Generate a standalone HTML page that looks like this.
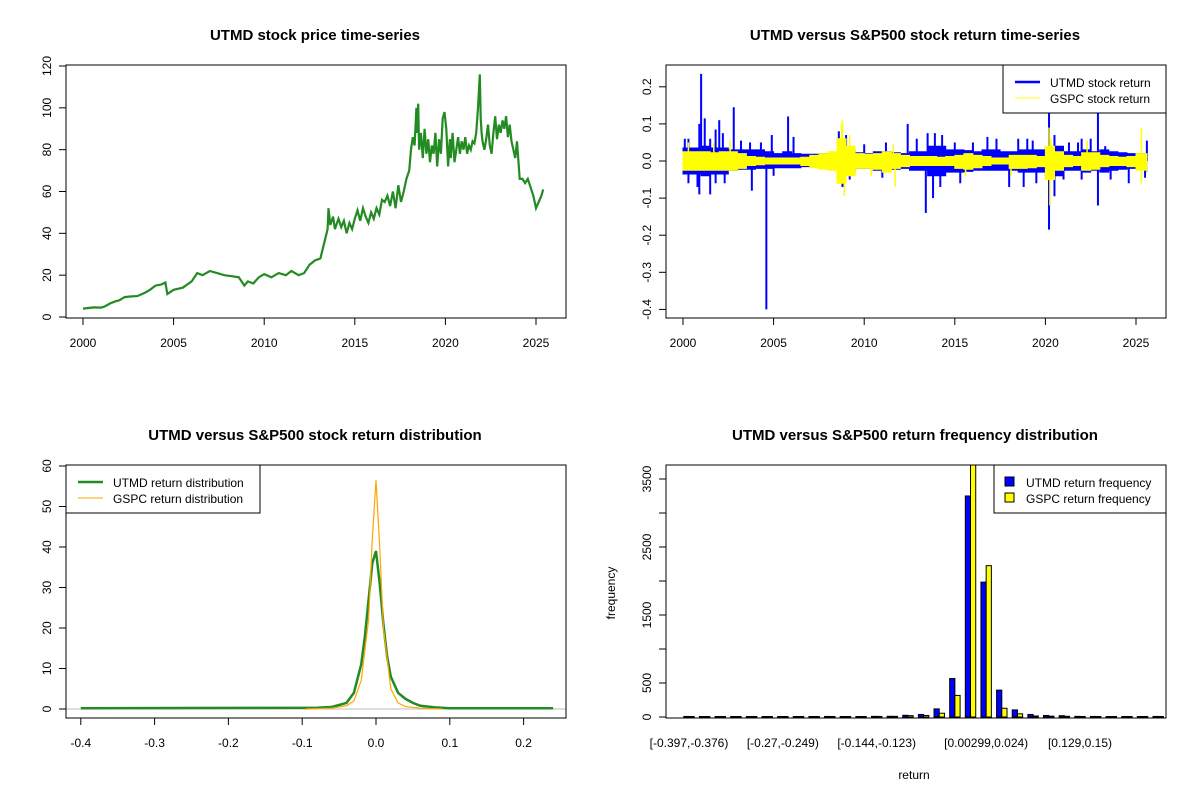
<!DOCTYPE html>
<html><head><meta charset="utf-8"><style>
html,body{margin:0;padding:0;background:#fff;}
svg{display:block;font-family:"Liberation Sans",Arial,sans-serif;}
</style></head><body>
<svg id="c" width="1200" height="800" viewBox="0 0 1200 800" xmlns="http://www.w3.org/2000/svg">
<text x="315" y="40" text-anchor="middle" font-size="15" font-weight="bold">UTMD stock price time-series</text>
<text x="915" y="40" text-anchor="middle" font-size="15" font-weight="bold">UTMD versus S&amp;P500 stock return time-series</text>
<text x="315" y="440" text-anchor="middle" font-size="15" font-weight="bold">UTMD versus S&amp;P500 stock return distribution</text>
<text x="915" y="440" text-anchor="middle" font-size="15" font-weight="bold">UTMD versus S&amp;P500 return frequency distribution</text>
<text x="914" y="779" text-anchor="middle" font-size="12">return</text>
<text transform="translate(615,593) rotate(-90)" text-anchor="middle" font-size="12">frequency</text>
</svg>
<script>
// ---------- data ----------
var priceYears=[2000,2000.3,2000.6,2001,2001.2,2001.5,2001.8,2002,2002.3,2002.6,2003,2003.4,2003.7,2004,2004.3,2004.55,2004.65,2005,2005.5,2006,2006.3,2006.6,2007,2007.4,2007.8,2008.2,2008.6,2008.9,2009.1,2009.4,2009.7,2010,2010.4,2010.8,2011.2,2011.5,2011.9,2012.2,2012.5,2012.8,2013.1,2013.3,2013.5,2013.55,2013.65,2013.8,2013.9,2014.1,2014.25,2014.4,2014.55,2014.7,2014.85,2015,2015.15,2015.3,2015.45,2015.6,2015.75,2015.9,2016.05,2016.2,2016.35,2016.5,2016.65,2016.8,2016.95,2017.1,2017.25,2017.4,2017.55,2017.7,2017.85,2018,2018.1,2018.2,2018.3,2018.4,2018.45,2018.5,2018.55,2018.65,2018.75,2018.85,2018.95,2019.05,2019.15,2019.25,2019.35,2019.45,2019.55,2019.65,2019.75,2019.85,2019.95,2020.05,2020.15,2020.25,2020.3,2020.4,2020.5,2020.6,2020.7,2020.8,2020.9,2021,2021.1,2021.2,2021.3,2021.4,2021.5,2021.6,2021.7,2021.8,2021.9,2021.95,2022,2022.05,2022.15,2022.25,2022.35,2022.45,2022.55,2022.65,2022.75,2022.85,2022.95,2023.05,2023.15,2023.25,2023.35,2023.45,2023.55,2023.65,2023.75,2023.85,2023.95,2024.1,2024.25,2024.4,2024.55,2024.7,2024.85,2025,2025.15,2025.3,2025.4,2025.5,2025.6];
var priceVals=[4,4.3,4.6,4.5,5,6.5,7.5,8,9.5,9.8,10,11.5,13,15,15.5,16.5,11,13,14,17,21,20,22,21,20,19.5,19,15,17,16,19,20.5,19,21,20,22,20,21,25,27,28,35,42,52,44,48,42,47,43,46,40,45,42,47,51,46,52,48,45,50,47,52,49,56,55,58,53,60,52,63,55,60,66,70,80,86,82,100,88,102,80,88,76,90,78,85,74,82,78,88,72,85,78,95,98,90,72,85,76,88,74,80,86,78,84,80,86,78,82,80,84,83,88,100,116,95,88,84,80,85,92,82,78,88,96,85,92,88,94,90,96,86,92,84,80,76,84,66,66,64,66,62,58,52,55,58,61];

var retYears=[2000,2000.5,2001,2001.5,2002,2002.5,2003,2003.5,2004,2004.5,2005,2005.5,2006,2006.5,2007,2007.5,2008,2008.5,2009,2009.5,2010,2010.5,2011,2011.5,2012,2012.5,2013,2013.5,2014,2014.5,2015,2015.5,2016,2016.5,2017,2017.5,2018,2018.5,2019,2019.5,2020,2020.5,2021,2021.5,2022,2022.5,2023,2023.5,2024,2024.5,2025,2025.6];
var utmdUp=[0.035,0.035,0.04,0.035,0.035,0.03,0.03,0.03,0.03,0.025,0.02,0.025,0.02,0.018,0.018,0.02,0.02,0.035,0.03,0.022,0.02,0.025,0.025,0.022,0.02,0.025,0.025,0.04,0.04,0.03,0.03,0.028,0.025,0.03,0.03,0.025,0.025,0.03,0.03,0.03,0.035,0.04,0.025,0.025,0.03,0.025,0.03,0.025,0.022,0.02,0.02,0.03];
var utmdDown=[-0.035,-0.035,-0.04,-0.035,-0.035,-0.025,-0.022,-0.022,-0.02,-0.02,-0.018,-0.018,-0.018,-0.015,-0.015,-0.02,-0.02,-0.03,-0.03,-0.02,-0.02,-0.025,-0.025,-0.022,-0.02,-0.025,-0.025,-0.04,-0.04,-0.03,-0.03,-0.028,-0.025,-0.025,-0.025,-0.025,-0.025,-0.03,-0.03,-0.03,-0.04,-0.04,-0.025,-0.025,-0.03,-0.025,-0.03,-0.025,-0.022,-0.02,-0.02,-0.028];
var spikeYears=[2000.1,2000.3,2000.9,2001.0,2001.2,2001.5,2001.8,2002.0,2002.2,2002.8,2003.2,2003.7,2004.3,2004.9,2005.8,2006.1,2008.6,2009.0,2010.0,2011.2,2012.4,2012.9,2013.5,2013.9,2014.3,2015.0,2016.0,2016.8,2017.3,2018.5,2019.0,2019.3,2020.2,2020.5,2021.3,2021.8,2022.0,2022.5,2022.9,2023.3,2025.6,
2000.3,2000.8,2000.9,2001.5,2001.8,2002.3,2003.8,2004.6,2005.0,2008.8,2009.2,2011.0,2013.4,2013.8,2014.2,2015.3,2018.0,2018.8,2019.5,2020.2,2020.5,2021.0,2022.0,2022.9,2023.6,2024.6,2025.5];
var spikeVals=[0.06,0.06,0.1,0.235,0.115,0.06,0.085,0.11,0.075,0.145,0.055,0.05,0.05,0.07,0.12,0.065,0.08,0.07,0.045,0.05,0.1,0.06,0.075,0.075,0.07,0.05,0.05,0.065,0.06,0.06,0.06,0.055,0.14,0.07,0.05,0.05,0.06,0.06,0.135,0.04,0.055,
-0.06,-0.07,-0.09,-0.09,-0.06,-0.06,-0.08,-0.4,-0.04,-0.07,-0.05,-0.045,-0.14,-0.1,-0.07,-0.06,-0.07,-0.07,-0.06,-0.185,-0.095,-0.05,-0.05,-0.12,-0.05,-0.06,-0.045];
var gspcUp=[0.025,0.025,0.025,0.022,0.025,0.025,0.02,0.012,0.01,0.008,0.008,0.008,0.008,0.01,0.015,0.02,0.025,0.06,0.04,0.02,0.018,0.02,0.025,0.02,0.015,0.012,0.012,0.012,0.01,0.012,0.015,0.02,0.015,0.012,0.008,0.008,0.015,0.015,0.015,0.012,0.04,0.025,0.015,0.012,0.022,0.022,0.015,0.012,0.01,0.012,0.02,0.015];
var gspcDown=[-0.025,-0.025,-0.025,-0.025,-0.025,-0.025,-0.02,-0.012,-0.01,-0.008,-0.008,-0.008,-0.008,-0.012,-0.018,-0.022,-0.025,-0.06,-0.04,-0.02,-0.02,-0.022,-0.03,-0.02,-0.015,-0.012,-0.012,-0.012,-0.012,-0.012,-0.02,-0.022,-0.018,-0.012,-0.008,-0.008,-0.02,-0.02,-0.018,-0.015,-0.05,-0.025,-0.015,-0.012,-0.025,-0.022,-0.015,-0.012,-0.012,-0.015,-0.025,-0.015];
var gspcSpikeYears=[2000.3,2001.7,2002.6,2008.8,2008.9,2008.75,2009.2,2010.4,2011.6,2011.7,2015.6,2018.1,2020.2,2020.25,2020.3,2022.3,2025.3,2025.3];
var gspcSpikeVals=[0.05,0.05,0.055,0.11,-0.095,0.1,0.07,-0.04,0.045,-0.07,-0.04,-0.04,0.09,-0.12,0.06,0.055,0.09,-0.06];

var densX=[-0.4,-0.08,-0.06,-0.05,-0.04,-0.03,-0.02,-0.015,-0.01,-0.005,0,0.005,0.01,0.015,0.02,0.03,0.04,0.05,0.06,0.08,0.1,0.24];
var utmdDens=[0.2,0.3,0.5,1,1.5,4,11,18,27,36,39,31,21,13,8,4,2.5,1.5,0.8,0.4,0.2,0.2];
var gspcDensX=[-0.095,-0.06,-0.04,-0.03,-0.02,-0.01,-0.005,0,0.005,0.01,0.02,0.03,0.04,0.06,0.09];
var gspcDens=[0,0.2,0.8,2,7,22,42,56.5,40,20,5,1.5,0.6,0.2,0];

var binLabels=["[-0.397,-0.376)","[-0.27,-0.249)","[-0.144,-0.123)","[0.00299,0.024)","[0.129,0.15)"];
var binLabelIdx=[0,6,12,19,25];
var utmdFreq=[1,0,0,0,0,0,0,0,0,1,0,0,2,3,18,30,112,558,3243,1976,388,97,30,15,12,2,1,0,0,0,1];
var gspcFreq=[0,0,0,0,0,0,0,0,0,0,0,0,1,2,12,15,48,310,4100,2218,121,39,8,5,3,0,0,0,0,0,0];

// ---------- helpers ----------
var S=document.getElementById('c'),NS='http://www.w3.org/2000/svg';
function mk(t,a){var e=document.createElementNS(NS,t);for(var k in a)e.setAttribute(k,a[k]);S.appendChild(e);return e;}
function box(x0,y0,x1,y1,name){var e=mk('rect',{x:x0,y:y0,width:x1-x0,height:y1-y0,fill:'none',stroke:'#000','stroke-width':1});

}
function xTick(x,y,lab,name){var l=mk('line',{x1:x,x2:x,y1:y,y2:y+7,stroke:'#000'});


var t=mk('text',{x:x,y:y+29,'text-anchor':'middle','font-size':12});t.textContent=lab;

}
function yTick(x,y,lab,name){var l=mk('line',{x1:x-7,x2:x,y1:y,y2:y,stroke:'#000'});


if(lab!==null){var t=mk('text',{transform:'translate('+(x-15)+','+y+') rotate(-90)','text-anchor':'middle','font-size':12});t.textContent=lab;

}}

// ---------- panel 1: price ----------
function px1(y){return 83+(y-2000)*18.12;}
function py1(v){return 317-v*(251/120);}
var d='';for(var i=0;i<priceYears.length;i++){d+=(i?'L':'M')+px1(priceYears[i]).toFixed(1)+' '+py1(priceVals[i]).toFixed(1);}
var p=mk('path',{d:d,fill:'none',stroke:'#228B22','stroke-width':2.2,'stroke-linejoin':'miter'});


box(66,65,566,318,'price-plot-frame');
[2000,2005,2010,2015,2020,2025].forEach(function(y){xTick(px1(y),318,String(y),'price-x');});
[0,20,40,60,80,100,120].forEach(function(v){yTick(66,py1(v),String(v),'price-y');});

// ---------- panel 2: returns ----------
function px2(y){return 683+(y-2000)*18.12;}
function py2(v){return 161-v*371;}
function band(up,dn,col,name){var d='',n=retYears.length;
for(var i=0;i<n;i++){var xa=px2(retYears[i]),xb=i<n-1?px2(retYears[i+1]):xa;d+=(i?'L':'M')+xa.toFixed(1)+' '+py2(up[i]).toFixed(1)+'L'+xb.toFixed(1)+' '+py2(up[i]).toFixed(1);}
for(var j=n-1;j>=0;j--){var xa2=px2(retYears[j]),xb2=j<n-1?px2(retYears[j+1]):xa2;d+='L'+xb2.toFixed(1)+' '+py2(dn[j]).toFixed(1)+'L'+xa2.toFixed(1)+' '+py2(dn[j]).toFixed(1);}
var e=mk('path',{d:d+'Z',fill:col,stroke:col,'stroke-width':1});

}
band(utmdUp,utmdDown,'#0000FF','utmd-return-band');
for(var i=0;i<spikeYears.length;i++){var s=mk('line',{x1:px2(spikeYears[i]),x2:px2(spikeYears[i]),y1:py2(0),y2:py2(spikeVals[i]),stroke:'#0000FF','stroke-width':2});

}
band(gspcUp,gspcDown,'#FFFF00','gspc-return-band');
for(var i=0;i<gspcSpikeYears.length;i++){var s2=mk('line',{x1:px2(gspcSpikeYears[i]),x2:px2(gspcSpikeYears[i]),y1:py2(0),y2:py2(gspcSpikeVals[i]),stroke:'#FFFF00','stroke-width':1.5});

}
box(666,65,1166,318,'return-plot-frame');
[2000,2005,2010,2015,2020,2025].forEach(function(y){xTick(px2(y),318,String(y),'return-x');});
[-0.4,-0.3,-0.2,-0.1,0,0.1,0.2].forEach(function(v){yTick(666,py2(v),v===0?'0.0':String(v),'return-y');});
var lg=mk('rect',{x:1003,y:65,width:163,height:48,fill:'#fff',stroke:'#000'});


var l1=mk('line',{x1:1015,x2:1040,y1:82,y2:82,stroke:'#0000FF','stroke-width':2.5});


var t1=mk('text',{x:1050,y:87,'font-size':12});t1.textContent='UTMD stock return';


var l2=mk('line',{x1:1015,x2:1040,y1:98,y2:98,stroke:'#FFFF00','stroke-width':1});


var t2=mk('text',{x:1050,y:103,'font-size':12});t2.textContent='GSPC stock return';



// ---------- panel 3: density ----------
function px3(x){return 376+x*738;}
function py3(v){return 709-v*4.05;}
var z=mk('line',{x1:66,x2:566,y1:py3(0),y2:py3(0),stroke:'#bebebe'});


function curve(xs,ys,col,w,name){var d='';for(var i=0;i<xs.length;i++)d+=(i?'L':'M')+px3(xs[i]).toFixed(1)+' '+py3(ys[i]).toFixed(1);
var e=mk('path',{d:d,fill:'none',stroke:col,'stroke-width':w});

}
curve(densX,utmdDens,'#228B22',2.5,'utmd-density');
curve(gspcDensX,gspcDens,'#FFA500',1.2,'gspc-density');
box(66,465,566,718,'density-plot-frame');
[-0.4,-0.3,-0.2,-0.1,0,0.1,0.2].forEach(function(v){xTick(px3(v),718,v===0?'0.0':String(v),'density-x');});
[0,10,20,30,40,50,60].forEach(function(v){yTick(66,py3(v),String(v),'density-y');});
var lg3=mk('rect',{x:66,y:465,width:194,height:48,fill:'#fff',stroke:'#000'});


var l3=mk('line',{x1:78,x2:103,y1:482,y2:482,stroke:'#228B22','stroke-width':2.5});


var t3=mk('text',{x:113,y:487,'font-size':12});t3.textContent='UTMD return distribution';


var l4=mk('line',{x1:78,x2:103,y1:498,y2:498,stroke:'#FFA500','stroke-width':1});


var t4=mk('text',{x:113,y:503,'font-size':12});t4.textContent='GSPC return distribution';



// ---------- panel 4: histogram ----------
function bx(i){return 689+i*15.64;}
function by(v){return 717-v*(238/3500);}
var bw=5.21;
var clip=mk('clipPath',{id:'hc'});var cr=document.createElementNS(NS,'rect');cr.setAttribute('x',666);cr.setAttribute('y',465);cr.setAttribute('width',500);cr.setAttribute('height',253);clip.appendChild(cr);
for(var i=0;i<utmdFreq.length;i++){
var b1=mk('rect',{x:bx(i)-bw,y:by(utmdFreq[i])-0.5,width:bw,height:Math.max(0,by(0)-by(utmdFreq[i]))+0.5,fill:'#0000FF',stroke:'#000','stroke-width':1,'clip-path':'url(#hc)'});


var b2=mk('rect',{x:bx(i),y:by(gspcFreq[i])-0.5,width:bw,height:Math.max(0,by(0)-by(gspcFreq[i]))+0.5,fill:'#FFFF00',stroke:'#000','stroke-width':1,'clip-path':'url(#hc)'});

}
box(666,465,1166,718,'frequency-plot-frame');
[0,500,1000,1500,2000,2500,3000,3500].forEach(function(v){yTick(666,by(v),(v/500)%2===0&&v!==0?null:String(v),'frequency-y');});
for(var k=0;k<binLabels.length;k++){var t=mk('text',{x:bx(binLabelIdx[k]),y:747,'text-anchor':'middle','font-size':12});t.textContent=binLabels[k];

}
var lg4=mk('rect',{x:994,y:465,width:172,height:48,fill:'#fff',stroke:'#000'});


var s1=mk('rect',{x:1005,y:477,width:9,height:9,fill:'#0000FF',stroke:'#000'});


var t5=mk('text',{x:1026,y:487,'font-size':12});t5.textContent='UTMD return frequency';


var s2b=mk('rect',{x:1005,y:493,width:9,height:9,fill:'#FFFF00',stroke:'#000'});


var t6=mk('text',{x:1026,y:503,'font-size':12});t6.textContent='GSPC return frequency';


</script>
</body></html>
